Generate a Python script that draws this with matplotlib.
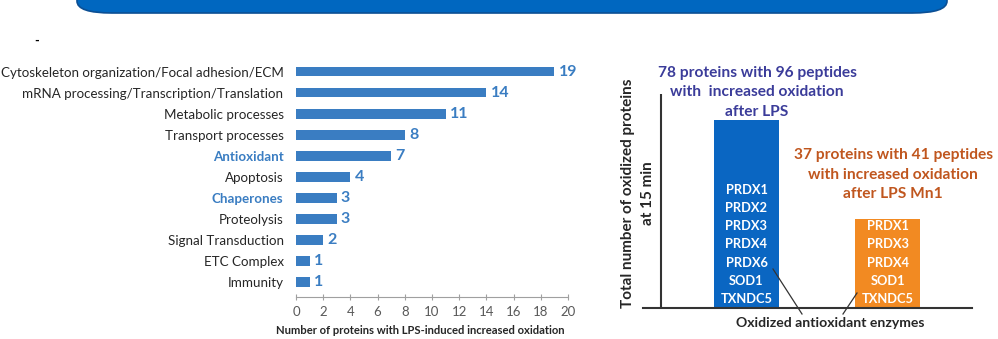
import matplotlib.pyplot as plt
from matplotlib.patches import FancyBboxPatch

plt.rcParams['font.family'] = ['Lato', 'DejaVu Sans']

# left chart data
categories = ["Cytoskeleton organization/Focal adhesion/ECM",
              "mRNA processing/Transcription/Translation",
              "Metabolic processes", "Transport processes", "Antioxidant",
              "Apoptosis", "Chaperones", "Proteolysis", "Signal Transduction",
              "ETC Complex", "Immunity"]
counts = [19, 14, 11, 8, 7, 4, 3, 3, 2, 1, 1]
highlighted = ["Antioxidant", "Chaperones"]
x_ticks = [0, 2, 4, 6, 8, 10, 12, 14, 16, 18, 20]

# right chart data
groups = ["LPS", "LPS Mn1"]
totals = [78, 37]
group_titles = ["78 proteins with 96 peptides\nwith  increased oxidation\nafter LPS",
                "37 proteins with 41 peptides\nwith increased oxidation\nafter LPS Mn1"]
enzymes_lps = ["PRDX1", "PRDX2", "PRDX3", "PRDX4", "PRDX6", "SOD1", "TXNDC5"]
enzymes_mn1 = ["PRDX1", "PRDX3", "PRDX4", "SOD1", "TXNDC5"]

W, H = 998, 339
fig = plt.figure(figsize=(W / 100, H / 100), dpi=100)


def fx(x):
    return x / W


def fy(y):
    return 1 - y / H


# banner at top
banner = FancyBboxPatch((fx(77), fy(13)), fx(870), 0.2, transform=fig.transFigure,
                        boxstyle="round,pad=0,rounding_size=0.035",
                        facecolor="#0067C0", edgecolor="#0B4F94", linewidth=1.2)
fig.patches.append(banner)
fig.text(fx(37), fy(41), "-", fontsize=9, fontweight="bold", ha="center",
         va="center", color="black")

# ---- left horizontal bar chart
blue = "#3A7DC2"
ax = fig.add_axes([fx(296), fy(297), fx(568) - fx(296), fy(61) - fy(297)])
ypos = list(range(len(categories)))
ax.barh(ypos, counts, height=0.46, color=blue)
ax.set_ylim(10.7, -0.5)
ax.set_xlim(0, 20)
ax.set_xticks(x_ticks)
ax.set_yticks(ypos)
ax.set_yticklabels(categories, fontsize=9.6, color="#262626")
for lab in ax.get_yticklabels():
    if lab.get_text() in highlighted:
        lab.set_color(blue)
        lab.set_fontweight("bold")
ax.tick_params(axis="y", length=0, pad=9)
ax.tick_params(axis="x", direction="inout", length=5, color="#A0A0A0",
               labelsize=9.5, labelcolor="#595959", pad=4)
for s in ["top", "right", "left"]:
    ax.spines[s].set_visible(False)
ax.spines["bottom"].set_color("#A0A0A0")
for y, v in zip(ypos, counts):
    ax.annotate(str(v), (v, y), xytext=(3, 0), textcoords="offset points",
                va="center", ha="left", fontsize=11.5, fontweight="bold", color=blue)
fig.text(fx(420), fy(331), "Number of proteins with LPS-induced increased oxidation",
         ha="center", va="center", fontsize=8.1, fontweight="bold", color="#262626")

# ---- right bar chart
ax2 = fig.add_axes([fx(643), fy(308), fx(972) - fx(643), fy(94) - fy(308)])
xs = [0, 1]
ax2.bar(xs, totals, width=0.46, color=["#0A66C2", "#F28A22"])
ax2.set_xlim(-0.731, 1.594)
ax2.set_ylim(0, 89)
ax2.axvline(-0.604, color="#333333", linewidth=1.5)
ax2.set_xticks([])
ax2.set_yticks([])
for s in ["top", "right", "left"]:
    ax2.spines[s].set_visible(False)
ax2.spines["bottom"].set_color("#333333")
ax2.spines["bottom"].set_linewidth(1.5)

for x, names in zip(xs, [enzymes_lps, enzymes_mn1]):
    n = len(names)
    for i, name in enumerate(names):
        ax2.annotate(name, (x, 0), xytext=(0, 0.72 * (9 + 18.2 * (n - 1 - i))),
                     textcoords="offset points", ha="center", va="center",
                     fontsize=9.3, fontweight="bold", color="white")

fig.text(fx(757), fy(92), group_titles[0], ha="center", va="center",
         fontsize=11.2, fontweight="bold", color="#3B3C9A", linespacing=1.5)
fig.text(fx(893), fy(175), group_titles[1], ha="center", va="center",
         fontsize=11.2, fontweight="bold", color="#C0561E", linespacing=1.5)

fig.text(fx(638), fy(193), "Total number of oxidized proteins\nat 15 min", rotation=90,
         ha="center", va="center", fontsize=11, fontweight="bold", color="#262626",
         linespacing=1.6)

fig.text(fx(830), fy(323), "Oxidized antioxidant enzymes", ha="center",
         va="center", fontsize=10.1, fontweight="bold", color="#262626")
fig.add_artist(plt.Line2D([fx(773), fx(802)], [fy(269), fy(314)],
                          transform=fig.transFigure, color="#333333", linewidth=0.9))
fig.add_artist(plt.Line2D([fx(857), fx(843)], [fy(293), fy(314)],
                          transform=fig.transFigure, color="#333333", linewidth=0.9))

fig.savefig("out.png", dpi=100)
